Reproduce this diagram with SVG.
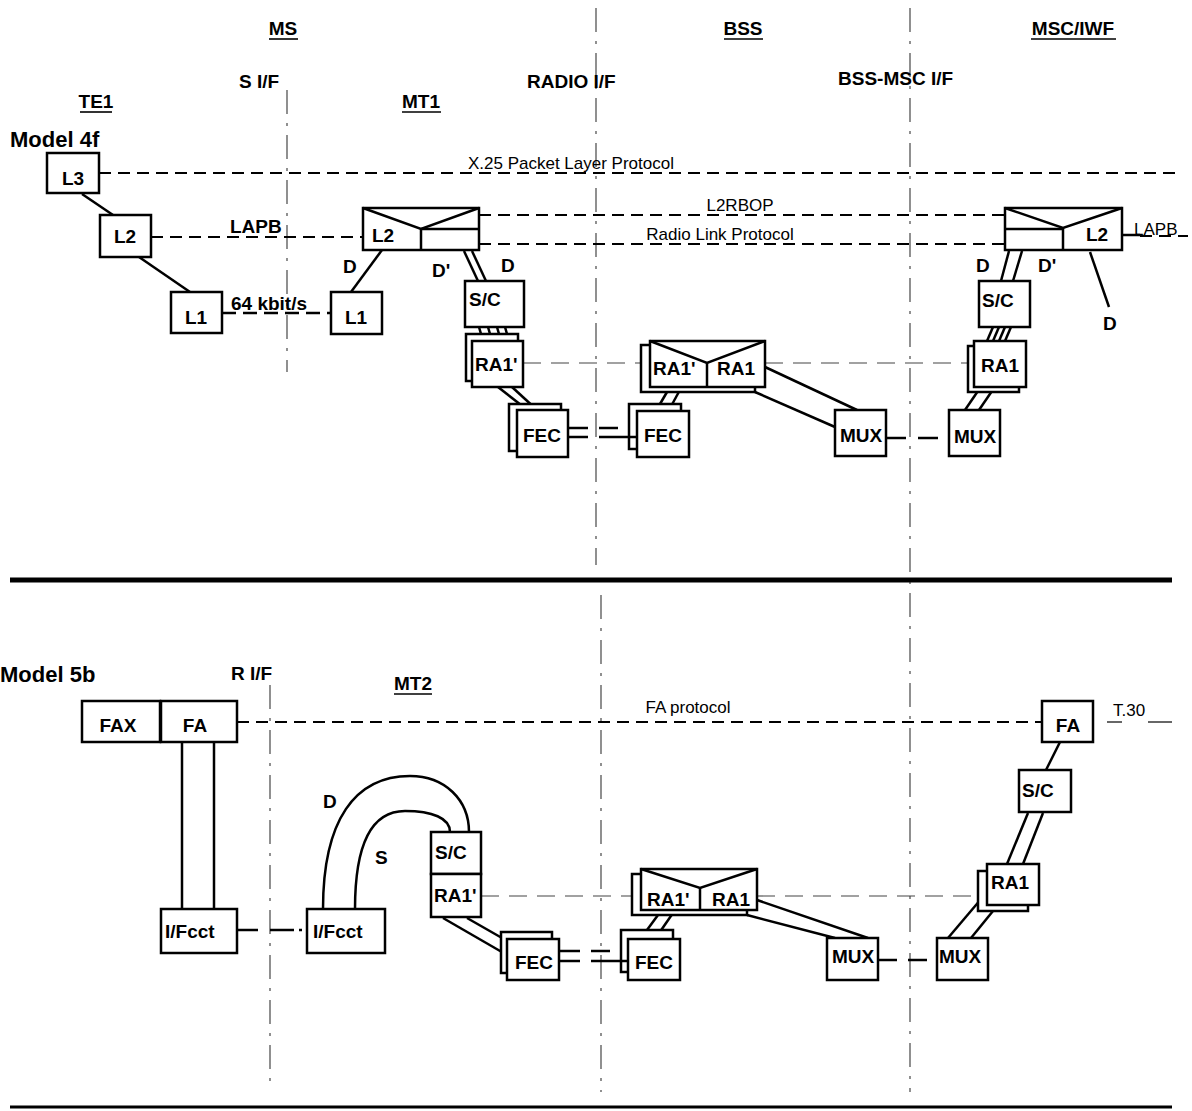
<svg xmlns="http://www.w3.org/2000/svg" width="1192" height="1111" viewBox="0 0 1192 1111">
<style>
.box{fill:#fff;stroke:#000;stroke-width:2.5}
.ln{stroke:#000;stroke-width:2.5;fill:none}
.lbl{font-family:"Liberation Sans",Arial,sans-serif;font-weight:bold;font-size:19px;fill:#000}
.big{font-family:"Liberation Sans",Arial,sans-serif;font-weight:bold;font-size:22px;fill:#000}
.txt{font-family:"Liberation Sans",Arial,sans-serif;font-size:17px;fill:#000}
.proto{stroke:#000;stroke-width:2;stroke-dasharray:12 7;fill:none}
.thin{stroke:#444;stroke-width:1.1;stroke-dasharray:18 10;fill:none}
.axis{stroke:#555;stroke-width:1.3;stroke-dasharray:24 9 3 9;fill:none}
.ul{stroke:#000;stroke-width:1.6}
.sep{stroke:#000;stroke-width:5}
</style>
<rect width="1192" height="1111" fill="#fff"/>

<g id="axes">
<line class="axis" x1="287" y1="90" x2="287" y2="372"/>
<line class="axis" x1="596" y1="8" x2="596" y2="565"/>
<line class="axis" x1="601" y1="595" x2="601" y2="1092"/>
<line class="axis" x1="910" y1="8" x2="910" y2="1092"/>
<line class="axis" x1="270" y1="685" x2="270" y2="1085"/>
<line class="sep" x1="10" y1="580" x2="1172" y2="580"/>
<line stroke="#000" stroke-width="3" x1="10" y1="1107" x2="1172" y2="1107"/>
</g>

<g id="headings">
<text class="lbl" x="283" y="35" text-anchor="middle">MS</text>
<line class="ul" x1="269" y1="39" x2="298" y2="39"/>
<text class="lbl" x="743" y="35" text-anchor="middle">BSS</text>
<line class="ul" x1="724" y1="39" x2="763" y2="39"/>
<text class="lbl" x="1073" y="35" text-anchor="middle">MSC/IWF</text>
<line class="ul" x1="1031" y1="39" x2="1116" y2="39"/>
<text class="lbl" x="239" y="88">S I/F</text>
<text class="lbl" x="527" y="88">RADIO I/F</text>
<text class="lbl" x="838" y="85">BSS-MSC I/F</text>
<text class="lbl" x="96" y="108" text-anchor="middle">TE1</text>
<line class="ul" x1="80" y1="112" x2="112" y2="112"/>
<text class="lbl" x="421" y="108" text-anchor="middle">MT1</text>
<line class="ul" x1="402" y1="112" x2="441" y2="112"/>
<text class="big" x="10" y="147">Model 4f</text>
<text class="big" x="0" y="682">Model 5b</text>
<text class="lbl" x="231" y="680">R I/F</text>
<text class="lbl" x="413" y="690" text-anchor="middle">MT2</text>
<line class="ul" x1="394" y1="694" x2="432" y2="694"/>
</g>

<g id="connectors">
<line class="proto" x1="99" y1="173" x2="1182" y2="173"/>
<text class="txt" x="571" y="169" text-anchor="middle">X.25 Packet Layer Protocol</text>
<line class="proto" x1="151" y1="237" x2="363" y2="237"/>
<text class="lbl" x="230" y="233">LAPB</text>
<line class="proto" x1="479" y1="215" x2="1005" y2="215"/>
<text class="txt" x="740" y="211" text-anchor="middle">L2RBOP</text>
<line class="proto" x1="479" y1="244" x2="1005" y2="244"/>
<text class="txt" x="720" y="240" text-anchor="middle">Radio Link Protocol</text>
<line class="ln" x1="1122" y1="235" x2="1140" y2="235"/>
<line class="proto" x1="1140" y1="236" x2="1188" y2="236"/>
<text class="txt" x="1134" y="235">LAPB</text>
<line class="ln" x1="82" y1="194" x2="113" y2="215"/>
<line class="ln" x1="139" y1="257" x2="190" y2="292"/>
<line stroke="#000" stroke-width="2.5" stroke-dasharray="14 7" x1="222" y1="313" x2="331" y2="313"/>
<text class="lbl" x="231" y="310">64 kbit/s</text>
<line class="ln" x1="382" y1="250" x2="351" y2="292"/>
<text class="lbl" x="343" y="273">D</text>
<text class="lbl" x="432" y="277">D'</text>
<text class="lbl" x="501" y="272">D</text>
<line class="ln" x1="464" y1="251" x2="478" y2="281"/>
<line class="ln" x1="472" y1="251" x2="486" y2="281"/>
<line class="ln" x1="479" y1="327" x2="483" y2="341"/>
<line class="ln" x1="488" y1="327" x2="492" y2="341"/>
<line class="ln" x1="497" y1="327" x2="501" y2="341"/>
<line class="ln" x1="505" y1="327" x2="509" y2="341"/>
<line class="ln" x1="498" y1="387" x2="521" y2="405"/>
<line class="ln" x1="512" y1="387" x2="537" y2="410"/>
<line class="thin" x1="523" y1="363" x2="641" y2="363"/>
<line class="thin" x1="765" y1="363" x2="968" y2="363"/>
<line class="ln" x1="568" y1="428" x2="588" y2="428"/>
<line class="ln" x1="568" y1="437" x2="588" y2="437"/>
<line class="ln" x1="599" y1="428" x2="618" y2="428"/>
<line class="ln" x1="599" y1="437" x2="637" y2="437"/>
<line class="ln" x1="660" y1="404" x2="667" y2="392"/>
<line class="ln" x1="669" y1="410" x2="681" y2="388"/>
<line class="ln" x1="765" y1="367" x2="857" y2="410"/>
<line class="ln" x1="755" y1="392" x2="835" y2="427"/>
<line class="ln" x1="886" y1="438" x2="906" y2="438"/>
<line class="ln" x1="918" y1="438" x2="938" y2="438"/>
<line class="ln" x1="965" y1="410" x2="980" y2="388"/>
<line class="ln" x1="979" y1="410" x2="992" y2="391"/>
<line class="ln" x1="993" y1="327" x2="987" y2="341"/>
<line class="ln" x1="999" y1="327" x2="993" y2="341"/>
<line class="ln" x1="1005" y1="327" x2="999" y2="341"/>
<line class="ln" x1="1011" y1="327" x2="1005" y2="341"/>
<line class="ln" x1="1009" y1="251" x2="1001" y2="281"/>
<line class="ln" x1="1022" y1="251" x2="1013" y2="281"/>
<line class="ln" x1="1090" y1="252" x2="1109" y2="307"/>
<text class="lbl" x="976" y="272">D</text>
<text class="lbl" x="1038" y="272">D'</text>
<text class="lbl" x="1103" y="330">D</text>

<line class="proto" x1="237" y1="722" x2="1042" y2="722"/>
<text class="txt" x="688" y="713" text-anchor="middle">FA protocol</text>
<line stroke="#000" stroke-width="1.2" x1="1107" y1="722" x2="1122" y2="722"/>
<line stroke="#000" stroke-width="1.2" x1="1148" y1="722" x2="1172" y2="722"/>
<text class="txt" x="1113" y="716">T.30</text>
<line class="ln" x1="182" y1="742" x2="182" y2="909"/>
<line class="ln" x1="214" y1="742" x2="214" y2="909"/>
<line class="ln" x1="237" y1="930" x2="258" y2="930"/>
<line class="ln" x1="270" y1="930" x2="294" y2="930"/>
<line class="ln" x1="299" y1="930" x2="302" y2="930"/>
<path class="ln" d="M323,909 C323,820 355,776 410,776 C445,776 469,800 469,832"/>
<path class="ln" d="M355,909 C355,842 372,811 405,811 C432,811 450,818 450,832"/>
<text class="lbl" x="323" y="808">D</text>
<text class="lbl" x="375" y="864">S</text>
<line class="ln" x1="443" y1="918" x2="507" y2="955"/>
<line class="ln" x1="467" y1="918" x2="502" y2="938"/>
<line class="thin" x1="481" y1="896" x2="632" y2="896"/>
<line class="thin" x1="757" y1="896" x2="978" y2="896"/>
<line class="ln" x1="559" y1="951" x2="580" y2="951"/>
<line class="ln" x1="559" y1="961" x2="580" y2="961"/>
<line class="ln" x1="591" y1="951" x2="610" y2="951"/>
<line class="ln" x1="591" y1="961" x2="628" y2="961"/>
<line class="ln" x1="647" y1="930" x2="658" y2="915"/>
<line class="ln" x1="655" y1="939" x2="673" y2="913"/>
<line class="ln" x1="757" y1="900" x2="868" y2="938"/>
<line class="ln" x1="747" y1="915" x2="835" y2="938"/>
<line class="ln" x1="878" y1="960" x2="897" y2="960"/>
<line class="ln" x1="908" y1="960" x2="927" y2="960"/>
<line class="ln" x1="948" y1="938" x2="987" y2="892"/>
<line class="ln" x1="971" y1="938" x2="993" y2="911"/>
<line class="ln" x1="1028" y1="813" x2="1007" y2="864"/>
<line class="ln" x1="1043" y1="813" x2="1023" y2="864"/>
<line class="ln" x1="1060" y1="742" x2="1046" y2="770"/>
</g>

<g id="te1-l3"><rect class="box" x="47" y="153" width="52" height="40"/><text class="lbl" x="73" y="185" text-anchor="middle">L3</text></g>
<g id="te1-l2"><rect class="box" x="100" y="215" width="51" height="42"/><text class="lbl" x="125" y="243" text-anchor="middle">L2</text></g>
<g id="te1-l1"><rect class="box" x="171" y="292" width="51" height="41"/><text class="lbl" x="196" y="324" text-anchor="middle">L1</text></g>
<g id="mt1-l1"><rect class="box" x="331" y="292" width="51" height="42"/><text class="lbl" x="356" y="324" text-anchor="middle">L1</text></g>
<g id="mt1-l2">
<rect class="box" x="363" y="208" width="116" height="42"/>
<polyline class="ln" points="363,208 421,229 479,208"/>
<line class="ln" x1="421" y1="229" x2="421" y2="250"/>
<line class="ln" x1="421" y1="229" x2="479" y2="229"/>
<text class="lbl" x="372" y="242">L2</text>
</g>
<g id="mt1-sc"><rect class="box" x="465" y="281" width="59" height="46"/><text class="lbl" x="469" y="306">S/C</text></g>
<g id="mt1-ra1"><rect class="box" x="466" y="334" width="52" height="47"/><rect class="box" x="472" y="341" width="51" height="46"/><text class="lbl" x="475" y="371">RA1'</text></g>
<g id="mt1-fec"><rect class="box" x="509" y="404" width="52" height="47"/><rect class="box" x="517" y="410" width="51" height="47"/><text class="lbl" x="542" y="442" text-anchor="middle">FEC</text></g>
<g id="bss-fec"><rect class="box" x="629" y="404" width="52" height="45"/><line class="ln" x1="629" y1="437" x2="637" y2="437"/><rect class="box" x="637" y="411" width="52" height="46"/><text class="lbl" x="663" y="442" text-anchor="middle">FEC</text></g>
<g id="bss-ra1">
<rect class="box" x="641" y="345" width="114" height="47"/>
<rect class="box" x="650" y="341" width="115" height="46"/>
<polyline class="ln" points="650,341 707,363 765,341"/>
<line class="ln" x1="707" y1="363" x2="707" y2="387"/>
<text class="lbl" x="653" y="375">RA1'</text>
<text class="lbl" x="717" y="375">RA1</text>
</g>
<g id="bss-mux"><rect class="box" x="835" y="410" width="51" height="46"/><text class="lbl" x="861" y="442" text-anchor="middle">MUX</text></g>
<g id="msc-mux"><rect class="box" x="949" y="410" width="51" height="46"/><text class="lbl" x="975" y="443" text-anchor="middle">MUX</text></g>
<g id="msc-ra1"><rect class="box" x="968" y="346" width="51" height="46"/><rect class="box" x="974" y="341" width="52" height="46"/><text class="lbl" x="981" y="372">RA1</text></g>
<g id="msc-sc"><rect class="box" x="979" y="281" width="51" height="46"/><text class="lbl" x="982" y="307">S/C</text></g>
<g id="msc-l2">
<rect class="box" x="1005" y="208" width="117" height="42"/>
<polyline class="ln" points="1005,208 1063,228 1122,208"/>
<line class="ln" x1="1063" y1="228" x2="1063" y2="250"/>
<line class="ln" x1="1005" y1="229" x2="1063" y2="229"/>
<text class="lbl" x="1086" y="241">L2</text>
</g>

<g id="fax"><rect class="box" x="82" y="701" width="78" height="41"/><text class="lbl" x="118" y="732" text-anchor="middle">FAX</text></g>
<g id="fa-left"><rect class="box" x="161" y="701" width="76" height="41"/><text class="lbl" x="195" y="732" text-anchor="middle">FA</text></g>
<g id="ifcct-left"><rect class="box" x="161" y="909" width="76" height="44"/><text class="lbl" x="165" y="938">I/Fcct</text></g>
<g id="ifcct-right"><rect class="box" x="307" y="909" width="78" height="44"/><text class="lbl" x="313" y="938">I/Fcct</text></g>
<g id="mt2-sc"><rect class="box" x="431" y="832" width="50" height="42"/><text class="lbl" x="435" y="859">S/C</text></g>
<g id="mt2-ra1"><rect class="box" x="431" y="874" width="50" height="43"/><text class="lbl" x="434" y="902">RA1'</text></g>
<g id="mt2-fec"><rect class="box" x="501" y="932" width="51" height="41"/><rect class="box" x="507" y="939" width="52" height="41"/><text class="lbl" x="534" y="969" text-anchor="middle">FEC</text></g>
<g id="bss2-fec"><rect class="box" x="621" y="930" width="52" height="42"/><line class="ln" x1="621" y1="961" x2="628" y2="961"/><rect class="box" x="628" y="939" width="52" height="41"/><text class="lbl" x="654" y="969" text-anchor="middle">FEC</text></g>
<g id="bss2-ra1">
<rect class="box" x="632" y="874" width="115" height="41"/>
<rect class="box" x="641" y="869" width="116" height="41"/>
<polyline class="ln" points="641,869 700,888 757,869"/>
<line class="ln" x1="700" y1="888" x2="700" y2="910"/>
<text class="lbl" x="647" y="906">RA1'</text>
<text class="lbl" x="712" y="906">RA1</text>
</g>
<g id="bss2-mux"><rect class="box" x="827" y="938" width="51" height="42"/><text class="lbl" x="853" y="963" text-anchor="middle">MUX</text></g>
<g id="msc2-mux"><rect class="box" x="937" y="938" width="51" height="42"/><text class="lbl" x="960" y="963" text-anchor="middle">MUX</text></g>
<g id="msc2-ra1"><rect class="box" x="978" y="871" width="50" height="40"/><rect class="box" x="987" y="864" width="52" height="41"/><text class="lbl" x="991" y="889">RA1</text></g>
<g id="msc2-sc"><rect class="box" x="1019" y="770" width="52" height="42"/><text class="lbl" x="1022" y="797">S/C</text></g>
<g id="msc2-fa"><rect class="box" x="1042" y="701" width="51" height="41"/><text class="lbl" x="1068" y="732" text-anchor="middle">FA</text></g>
</svg>
